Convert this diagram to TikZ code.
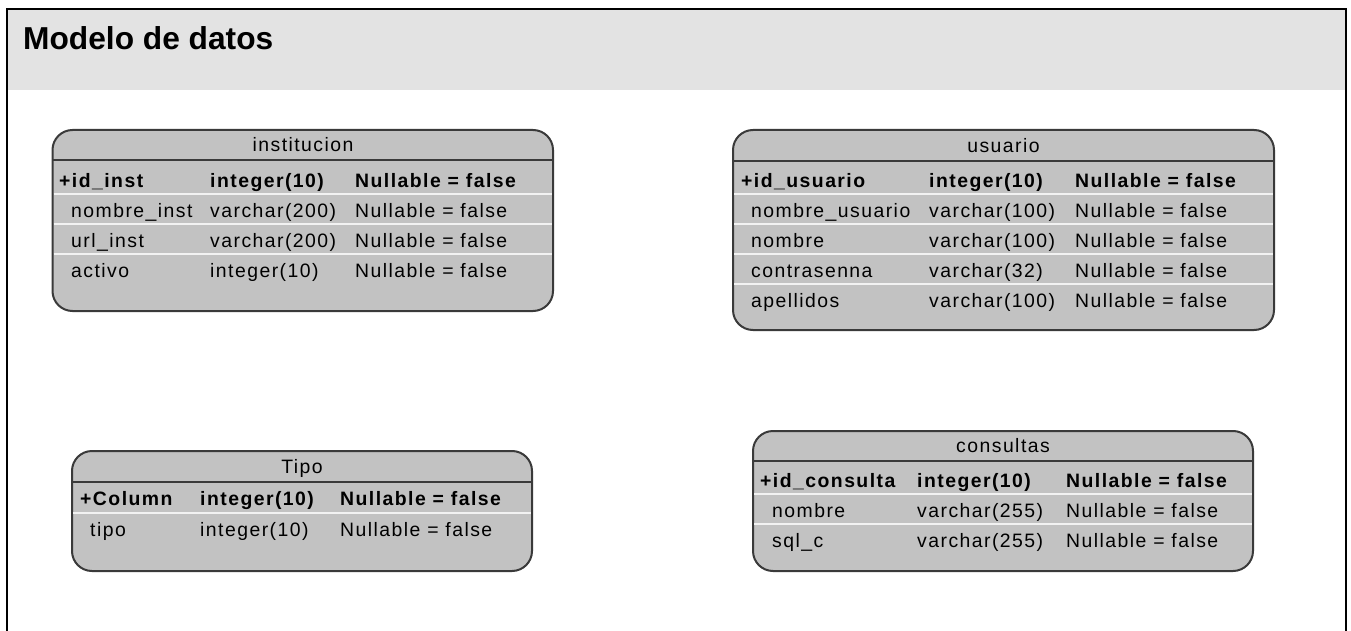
\documentclass[tikz,border=0pt]{standalone}
\usepackage{fontspec}
\setmainfont{Liberation Sans}
\newfontfamily\tblfont[LetterSpace=7.5]{Liberation Sans}
\definecolor{bandgray}{RGB}{227,227,227}
\definecolor{tablefill}{RGB}{194,194,194}
\definecolor{tableedge}{RGB}{58,58,58}
\definecolor{rowrule}{RGB}{242,242,242}

\begin{document}
\begin{tikzpicture}[x=1pt,y=-1pt,
  tbox/.style={draw=tableedge,line width=2pt,fill=tablefill,rounded corners=20pt,
    anchor=north west,inner sep=0pt,outer sep=0pt},
  headrule/.style={draw=tableedge,line width=2pt},
  rowsep/.style={draw=rowrule,line width=2pt},
  cell/.style={anchor=base west,inner sep=0pt,font=\tblfont\fontsize{19.4}{19.4}\selectfont},
  keycell/.style={anchor=base west,inner sep=0pt,font=\tblfont\bfseries\fontsize{19.4}{19.4}\selectfont},
  tabletitle/.style={anchor=base,inner sep=0pt,font=\tblfont\fontsize{19.4}{19.4}\selectfont}
]
\useasboundingbox (0,0) rectangle (1351,631);
\fill[white] (0,0) rectangle (1351,631);

% frame and title band
\fill[bandgray] (7,9) rectangle (1346,90);
\draw[black,line width=2.6pt] (7,631) -- (7,9) -- (1346,9) -- (1346,631);
\node[anchor=base west,inner sep=0pt,font=\bfseries\fontsize{31.7}{31.7}\selectfont] (titulo) at (23,50) {Modelo de datos};

% ---------- institucion ----------
\node[tbox,minimum width=500.5pt,minimum height=181pt] (institucion) at (52.5,130) {};
\draw[rowsep] (53.5,194) -- (552,194) (53.5,224) -- (552,224) (53.5,254) -- (552,254);
\draw[headrule] (52.5,160.5) -- (553,160.5);
\node[tabletitle] (institucionT) at (303,152) {institucion};
\node[keycell] (i1a) at (59,187) {+id\_inst};
\node[keycell] (i1b) at (210,187) {integer(10)};
\node[keycell] (i1c) at (355,187) {Nullable = false};
\node[cell] (i2a) at (71,217) {nombre\_inst};
\node[cell] (i2b) at (210,217) {varchar(200)};
\node[cell] (i2c) at (355,217) {Nullable = false};
\node[cell] (i3a) at (71,247) {url\_inst};
\node[cell] (i3b) at (210,247) {varchar(200)};
\node[cell] (i3c) at (355,247) {Nullable = false};
\node[cell] (i4a) at (71,277) {activo};
\node[cell] (i4b) at (210,277) {integer(10)};
\node[cell] (i4c) at (355,277) {Nullable = false};

% ---------- usuario ----------
\node[tbox,minimum width=541pt,minimum height=200pt] (usuario) at (733,130) {};
\draw[rowsep] (734,194) -- (1273,194) (734,224) -- (1273,224) (734,254) -- (1273,254) (734,284) -- (1273,284);
\draw[headrule] (733,161) -- (1274,161);
\node[tabletitle] (usuarioT) at (1003.5,153) {usuario};
\node[keycell] (u1a) at (741,187) {+id\_usuario};
\node[keycell] (u1b) at (929,187) {integer(10)};
\node[keycell] (u1c) at (1075,187) {Nullable = false};
\node[cell] (u2a) at (751,217) {nombre\_usuario};
\node[cell] (u2b) at (929,217) {varchar(100)};
\node[cell] (u2c) at (1075,217) {Nullable = false};
\node[cell] (u3a) at (751,247) {nombre};
\node[cell] (u3b) at (929,247) {varchar(100)};
\node[cell] (u3c) at (1075,247) {Nullable = false};
\node[cell] (u4a) at (751,277) {contrasenna};
\node[cell] (u4b) at (929,277) {varchar(32)};
\node[cell] (u4c) at (1075,277) {Nullable = false};
\node[cell] (u5a) at (751,307) {apellidos};
\node[cell] (u5b) at (929,307) {varchar(100)};
\node[cell] (u5c) at (1075,307) {Nullable = false};

% ---------- Tipo ----------
\node[tbox,minimum width=460pt,minimum height=120pt] (tipo) at (72,451) {};
\draw[rowsep] (73,513) -- (531,513);
\draw[headrule] (72,481.5) -- (532,481.5);
\node[tabletitle] (tipoT) at (302,473) {Tipo};
\node[keycell] (t1a) at (80,505) {+Column};
\node[keycell] (t1b) at (200,505) {integer(10)};
\node[keycell] (t1c) at (340,505) {Nullable = false};
\node[cell] (t2a) at (90,536) {tipo};
\node[cell] (t2b) at (200,536) {integer(10)};
\node[cell] (t2c) at (340,536) {Nullable = false};

% ---------- consultas ----------
\node[tbox,minimum width=500pt,minimum height=140pt] (consultas) at (753,431) {};
\draw[rowsep] (754,494) -- (1252,494) (754,524) -- (1252,524);
\draw[headrule] (753,461) -- (1253,461);
\node[tabletitle] (consultasT) at (1003,452) {consultas};
\node[keycell] (c1a) at (760,487) {+id\_consulta};
\node[keycell] (c1b) at (917,487) {integer(10)};
\node[keycell] (c1c) at (1066,487) {Nullable = false};
\node[cell] (c2a) at (772,517) {nombre};
\node[cell] (c2b) at (917,517) {varchar(255)};
\node[cell] (c2c) at (1066,517) {Nullable = false};
\node[cell] (c3a) at (772,547) {sql\_c};
\node[cell] (c3b) at (917,547) {varchar(255)};
\node[cell] (c3c) at (1066,547) {Nullable = false};
\end{tikzpicture}
\end{document}
